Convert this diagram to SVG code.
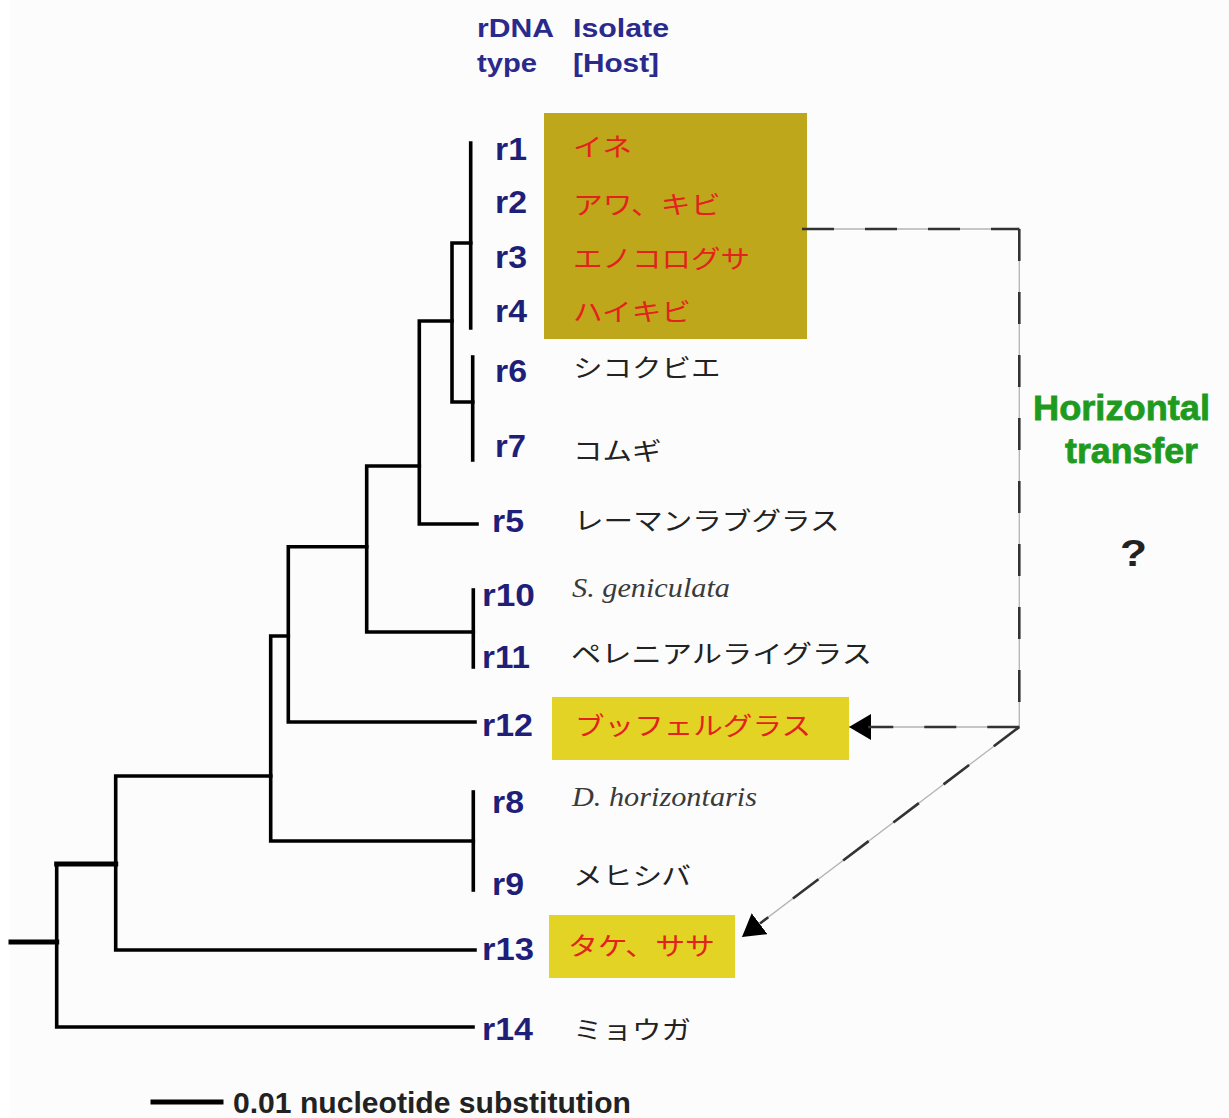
<svg xmlns="http://www.w3.org/2000/svg" width="1229" height="1118" viewBox="0 0 1229 1118">
  <defs>
    <marker id="arrowhead" markerUnits="userSpaceOnUse" viewBox="0 0 22 26" refX="22" refY="13" markerWidth="22" markerHeight="26" orient="auto">
      <path d="M0,0 L22,13 L0,26 Z" fill="#000"/>
    </marker>
    <style>
      .branch { fill: none; stroke: #000; stroke-width: 3.6; stroke-linecap: square; stroke-linejoin: miter; }
      .thick { stroke-width: 5; }
      .base { fill: none; stroke: #b4b4b4; stroke-width: 1.3; }
      .dash { fill: none; stroke: #333; stroke-width: 2.6; stroke-dasharray: 32 31; }
      .head { font-family: "Liberation Sans", Arial, sans-serif; font-weight: bold; font-size: 25px; fill: #2a2a8c; }
      .rid { font-family: "Liberation Sans", Arial, sans-serif; font-weight: bold; font-size: 31px; fill: #1f1f7a; }
      .jp { font-family: "Liberation Sans", "Noto Sans CJK JP", sans-serif; font-size: 25px; fill: #222; }
      .red { fill: #e3221e; }
      .sp { font-family: "Liberation Serif", "Times New Roman", serif; font-style: italic; font-size: 28px; fill: #3a3a3a; }
      .olive { fill: #bea71b; }
      .yellow { fill: #e2d324; }
      .green { font-family: "Liberation Sans", Arial, sans-serif; font-weight: bold; font-size: 35px; fill: #1e9b1e; stroke: #1e9b1e; stroke-width: 0.8; }
    </style>
  </defs>

  <rect x="0" y="0" width="1229" height="1118" fill="#ffffff"/>
  <rect x="10" y="0" width="1219" height="1118" fill="#fcfcfc"/>

  <!-- column headings -->
  <g id="heading">
    <text class="head" x="477" y="37" textLength="77" lengthAdjust="spacingAndGlyphs">rDNA</text>
    <text class="head" x="573" y="37" textLength="96" lengthAdjust="spacingAndGlyphs">Isolate</text>
    <text class="head" x="477" y="72" textLength="60" lengthAdjust="spacingAndGlyphs">type</text>
    <text class="head" x="573" y="72" textLength="86" lengthAdjust="spacingAndGlyphs">[Host]</text>
  </g>

  <!-- highlight boxes -->
  <g id="box-grass-group">
    <rect class="olive" x="544" y="113" width="263" height="226"/>
  </g>
  <g id="box-buffel">
    <rect class="yellow" x="552" y="697" width="297" height="63"/>
  </g>
  <g id="box-bamboo">
    <rect class="yellow" x="549" y="915" width="186" height="63"/>
  </g>

  <!-- tree branches and transfer arrows -->
  <g id="connectors">
    <path class="branch" d="M470.7,143 V328"/>
    <path class="branch" d="M470.7,243 H452 V402 H472.7"/>
    <path class="branch" d="M472.7,357 V460"/>
    <path class="branch" d="M452,321 H419.3 V524 H477"/>
    <path class="branch" d="M419.3,466 H366.7 V632 H473.3"/>
    <path class="branch" d="M473.3,590 V667"/>
    <path class="branch" d="M366.7,546.7 H288.3 V722 H475"/>
    <path class="branch" d="M288.3,636 H270.7 V841 H473.3"/>
    <path class="branch" d="M473.3,792 V890"/>
    <path class="branch" d="M270.7,776 H115.7 V950 H475"/>
    <path class="branch" d="M56.7,864 V1027 H473"/>
    <path class="branch thick" d="M115.7,864 H56.7"/>
    <path class="branch thick" d="M11,942 H56.7"/>

    <!-- scale bar -->
    <path class="branch thick" d="M153,1102 H221" stroke-width="4"/>

    <!-- horizontal transfer -->
    <path class="base" d="M806,229 H1019.3 V727"/>
    <path class="dash" d="M802,229 H1019.3"/>
    <path class="dash" d="M1019.3,229 V727"/>
    <path class="base" d="M1019.3,727 H849" marker-end="url(#arrowhead)"/>
    <path class="dash" d="M1019.3,727 H868"/>
    <path class="base" d="M1019.3,727 L742,937" marker-end="url(#arrowhead)"/>
    <path class="dash" d="M1019.3,727 L760,923.5" stroke-width="1.8" stroke-dasharray="30 33"/>
  </g>

  <!-- leaves -->
  <g id="r1">
    <text class="rid" x="495" y="160" textLength="32" lengthAdjust="spacingAndGlyphs">r1</text>
    <text class="jp red" x="573" y="155.5" textLength="59" lengthAdjust="spacingAndGlyphs">イネ</text>
  </g>
  <g id="r2">
    <text class="rid" x="495" y="213" textLength="32" lengthAdjust="spacingAndGlyphs">r2</text>
    <text class="jp red" x="573" y="213.5" textLength="147.5" lengthAdjust="spacingAndGlyphs">アワ、キビ</text>
  </g>
  <g id="r3">
    <text class="rid" x="495" y="268" textLength="32" lengthAdjust="spacingAndGlyphs">r3</text>
    <text class="jp red" x="573" y="267.5" textLength="177" lengthAdjust="spacingAndGlyphs">エノコログサ</text>
  </g>
  <g id="r4">
    <text class="rid" x="495" y="322" textLength="32" lengthAdjust="spacingAndGlyphs">r4</text>
    <text class="jp red" x="573" y="320.5" textLength="118" lengthAdjust="spacingAndGlyphs">ハイキビ</text>
  </g>
  <g id="r6">
    <text class="rid" x="495" y="382" textLength="32" lengthAdjust="spacingAndGlyphs">r6</text>
    <text class="jp" x="573" y="377" textLength="147.5" lengthAdjust="spacingAndGlyphs">シコクビエ</text>
  </g>
  <g id="r7">
    <text class="rid" x="495" y="457" textLength="31" lengthAdjust="spacingAndGlyphs">r7</text>
    <text class="jp" x="573" y="459.5" textLength="88.5" lengthAdjust="spacingAndGlyphs">コムギ</text>
  </g>
  <g id="r5">
    <text class="rid" x="492" y="532" textLength="32" lengthAdjust="spacingAndGlyphs">r5</text>
    <text class="jp" x="574" y="529.5" textLength="265.5" lengthAdjust="spacingAndGlyphs">レーマンラブグラス</text>
  </g>
  <g id="r10">
    <text class="rid" x="482" y="606" textLength="53" lengthAdjust="spacingAndGlyphs">r10</text>
    <text class="sp" x="572" y="597" textLength="158" lengthAdjust="spacingAndGlyphs">S. geniculata</text>
  </g>
  <g id="r11">
    <text class="rid" x="482" y="668" textLength="48" lengthAdjust="spacingAndGlyphs">r11</text>
    <text class="jp" x="571" y="662.5" textLength="301" lengthAdjust="spacingAndGlyphs">ペレニアルライグラス</text>
  </g>
  <g id="r12">
    <text class="rid" x="482" y="736" textLength="51" lengthAdjust="spacingAndGlyphs">r12</text>
    <text class="jp red" x="575" y="735" textLength="236" lengthAdjust="spacingAndGlyphs">ブッフェルグラス</text>
  </g>
  <g id="r8">
    <text class="rid" x="492" y="813" textLength="32" lengthAdjust="spacingAndGlyphs">r8</text>
    <text class="sp" x="572" y="806" textLength="185" lengthAdjust="spacingAndGlyphs">D. horizontaris</text>
  </g>
  <g id="r9">
    <text class="rid" x="492" y="895" textLength="32" lengthAdjust="spacingAndGlyphs">r9</text>
    <text class="jp" x="573" y="884.5" textLength="118" lengthAdjust="spacingAndGlyphs">メヒシバ</text>
  </g>
  <g id="r13">
    <text class="rid" x="482" y="960" textLength="52" lengthAdjust="spacingAndGlyphs">r13</text>
    <text class="jp red" x="568" y="955" textLength="147" lengthAdjust="spacingAndGlyphs">タケ、ササ</text>
  </g>
  <g id="r14">
    <text class="rid" x="482" y="1040" textLength="51" lengthAdjust="spacingAndGlyphs">r14</text>
    <text class="jp" x="573" y="1038.5" textLength="118" lengthAdjust="spacingAndGlyphs">ミョウガ</text>
  </g>

  <!-- transfer note -->
  <g id="transfer-label">
    <text class="green" x="1033" y="420" textLength="177" lengthAdjust="spacingAndGlyphs">Horizontal</text>
    <text class="green" x="1065" y="463" textLength="133" lengthAdjust="spacingAndGlyphs">transfer</text>
    <text x="1120" y="566" font-family="Liberation Sans, Arial, sans-serif" font-weight="bold" font-size="36" fill="#222" textLength="27" lengthAdjust="spacingAndGlyphs">?</text>
  </g>

  <!-- scale label -->
  <g id="scale">
    <text x="233" y="1113" font-family="Liberation Sans, Arial, sans-serif" font-weight="bold" font-size="30" fill="#222" textLength="398" lengthAdjust="spacingAndGlyphs">0.01 nucleotide substitution</text>
  </g>
</svg>
